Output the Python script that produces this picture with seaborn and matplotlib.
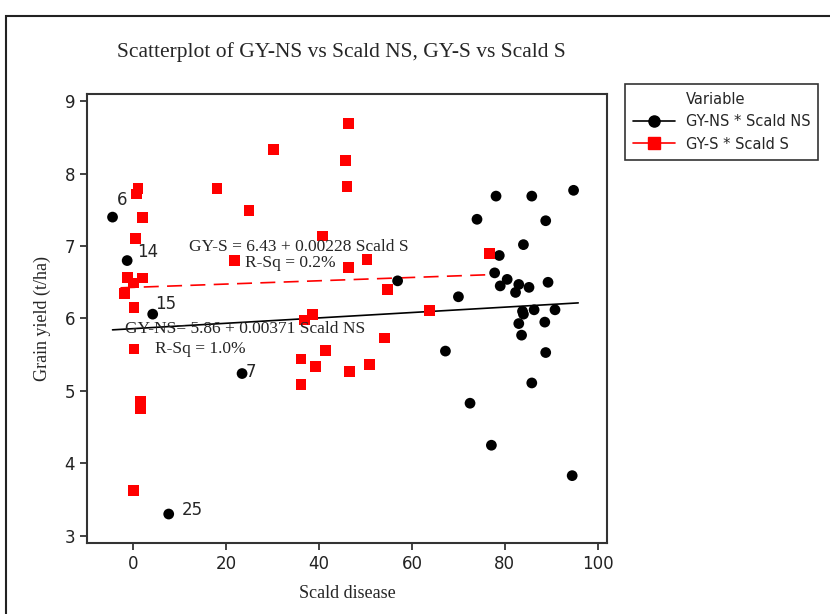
import numpy as np
import pandas as pd
import matplotlib
matplotlib.use("Agg")
import matplotlib.pyplot as plt
from matplotlib.lines import Line2D
from matplotlib.patches import Rectangle
import seaborn as sns

# ---- data ----
scald_ns = [-4.5, -1.35, 4.15, 23.4, 7.6, 56.9, 70.0, 67.2, 72.5, 78.1, 85.8, 94.8,
            74.0, 88.8, 84.0, 78.8, 77.8, 80.5, 79.0, 83.0, 82.3, 85.2, 89.3, 83.8,
            84.0, 86.3, 90.8, 83.0, 88.6, 83.6, 88.8, 85.8, 77.1, 94.5]
gy_ns = [7.40, 6.80, 6.06, 5.24, 3.30, 6.52, 6.30, 5.55, 4.83, 7.69, 7.69, 7.77,
         7.37, 7.35, 7.02, 6.87, 6.63, 6.54, 6.45, 6.47, 6.36, 6.43, 6.50, 6.10,
         6.06, 6.12, 6.12, 5.93, 5.95, 5.77, 5.53, 5.11, 4.25, 3.83]
scald_s = [30.1, 1.0, 0.6, 18.0, 24.9, 1.9, 0.4, 21.7, -1.2, 1.9, 0.0, -1.9, 0.1,
           0.1, 1.5, 1.5, 0.0, 46.3, 45.7, 46.0, 40.7, 50.3, 46.3, 54.7, 36.8, 38.5,
           63.7, 54.1, 41.4, 36.1, 39.2, 46.6, 50.9, 36.1, 76.7]
gy_s = [8.33, 7.79, 7.72, 7.79, 7.49, 7.39, 7.10, 6.80, 6.57, 6.56, 6.49, 6.34, 6.15,
        5.58, 4.85, 4.76, 3.62, 8.69, 8.18, 7.82, 7.14, 6.81, 6.70, 6.40, 5.98, 6.05,
        6.11, 5.73, 5.56, 5.44, 5.34, 5.27, 5.36, 5.09, 6.90]

series_names = ["GY-NS * Scald NS", "GY-S * Scald S"]
fit_ns = (5.86, 0.00371)   # intercept, slope
fit_s = (6.43, 0.00228)
fit_s_range = (-2.8, 76.0)

# labelled observations (label, index into NS series)
point_labels = ["6", "14", "15", "7", "25"]
point_label_idx = [0, 1, 2, 3, 4]

title = "Scatterplot of GY-NS vs Scald NS, GY-S vs Scald S"
xlabel = "Scald disease"
ylabel = "Grain yield (t/ha)"
xticks = [0, 20, 40, 60, 80, 100]
yticks = [3, 4, 5, 6, 7, 8, 9]

# ---- build frame ----
df = pd.concat([
    pd.DataFrame({"x": scald_ns, "y": gy_ns, "Variable": series_names[0]}),
    pd.DataFrame({"x": scald_s, "y": gy_s, "Variable": series_names[1]}),
], ignore_index=True)

sns.set_style("white")
serif = ["Liberation Serif", "DejaVu Serif"]
sans = ["DejaVu Sans"]
plt.rcParams["font.family"] = sans

W, H = 830, 614
fig = plt.figure(figsize=(W / 100, H / 100), dpi=100)
ax = fig.add_axes([87 / W, 1 - 543 / H, (607 - 87) / W, (543 - 94) / H])

palette = {series_names[0]: "black", series_names[1]: "#ff0000"}
markers = {series_names[0]: "o", series_names[1]: "s"}

# regression lines
xs_ns = np.linspace(min(scald_ns), max(scald_ns) + 1, 50)
sns.lineplot(x=xs_ns, y=fit_ns[0] + fit_ns[1] * xs_ns, ax=ax, color="black", lw=1.2)
xs_s = np.linspace(fit_s_range[0], fit_s_range[1], 50)
sns.lineplot(x=xs_s, y=fit_s[0] + fit_s[1] * xs_s, ax=ax, color="#ff0000", lw=1.2,
             dashes=False, linestyle=(0, (9, 5)))

sns.scatterplot(data=df, x="x", y="y", hue="Variable", style="Variable",
                palette=palette, markers=markers, s=60, edgecolor="none",
                linewidth=0, legend=False, ax=ax, zorder=3)

ax.set_xlim(-10, 102)
ax.set_ylim(2.9, 9.1)
ax.set_xticks(xticks)
ax.set_yticks(yticks)
ax.tick_params(axis="both", direction="out", length=5, width=1.2, labelsize=12,
               bottom=True, left=True, colors="#222222")
for sp in ax.spines.values():
    sp.set_linewidth(1.5)
    sp.set_color("#333333")

ax.set_xlabel(xlabel, fontsize=13, family=serif, labelpad=9)
ax.set_ylabel(ylabel, fontsize=13, family=serif, labelpad=10)
fig.text(341 / W, 1 - 52 / H, title, ha="center", va="center", fontsize=15.5,
         family=serif)

# point labels (offsets in pixels -> points)
offsets_px = [(10, 17), (21, 9), (13, 10), (9, 2), (24, 4)]
for lab, i, (dx, dy) in zip(point_labels, point_label_idx, offsets_px):
    ax.annotate(lab, (scald_ns[i], gy_ns[i]), xytext=(dx * 0.72, dy * 0.72),
                textcoords="offset points", fontsize=12, ha="center", va="center")

# equations
ax.text(12.0, 6.99, "GY-S = 6.43 + 0.00228 Scald S", fontsize=12.5, family=serif,
        ha="left", va="center")
ax.text(24.0, 6.76, "R-Sq = 0.2%", fontsize=12.5, family=serif, ha="left", va="center")
ax.text(-1.9, 5.85, "GY-NS= 5.86 + 0.00371 Scald NS", fontsize=12.5, family=serif,
        ha="left", va="center")
ax.text(4.7, 5.58, "R-Sq = 1.0%", fontsize=12.5, family=serif, ha="left", va="center")

# legend
handles = [
    Line2D([], [], color="none", label="Variable"),
    Line2D([], [], color="black", marker="o", markersize=8, lw=1.2, label=series_names[0]),
    Line2D([], [], color="#ff0000", marker="s", markersize=8, lw=1.2, label=series_names[1]),
]
leg = fig.legend(handles=handles, loc="upper left",
                 bbox_to_anchor=(625 / W, 1 - 84 / H), borderaxespad=0,
                 fontsize=10.5, frameon=True, fancybox=False, edgecolor="black",
                 handlelength=2.9, handletextpad=0.7, borderpad=0.55,
                 labelspacing=0.5)
leg.get_frame().set_linewidth(1.2)

# figure border
fig.patches.append(Rectangle((6 / W, -0.05), 1.2, 1 - 16 / H + 0.05,
                             transform=fig.transFigure, fill=False,
                             edgecolor="#222222", lw=1.5, clip_on=False))

fig.savefig("out.png", dpi=100)
